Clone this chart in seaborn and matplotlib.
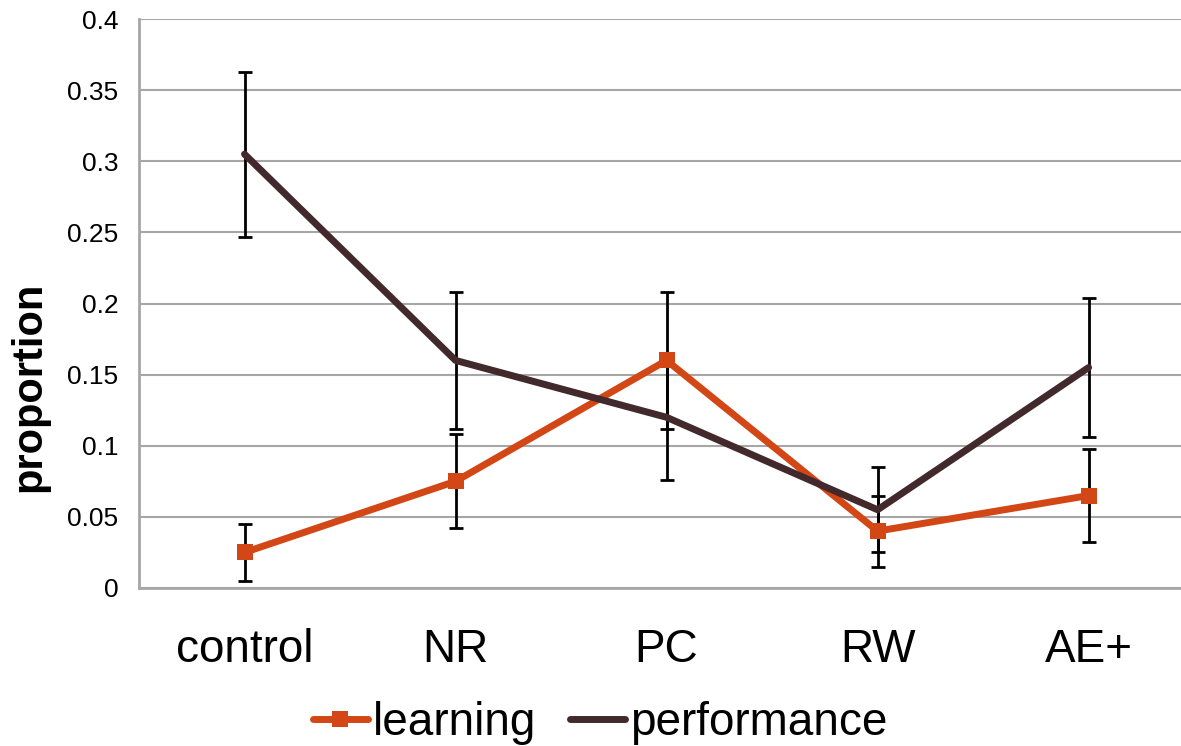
# 라이브러리
import numpy as np
import pandas as pd
import seaborn as sns
import matplotlib.pyplot as plt
from matplotlib.ticker import MultipleLocator

# data
categories = ['control', 'NR', 'PC', 'RW', 'AE+']
learning = [0.025, 0.075, 0.16, 0.04, 0.065]
learning_err = [0.02, 0.033, 0.048, 0.025, 0.033]
performance = [0.305, 0.16, 0.12, 0.055, 0.155]
performance_err = [0.058, 0.048, 0.044, 0.03, 0.049]
yticks = [0, 0.05, 0.1, 0.15, 0.2, 0.25, 0.3, 0.35, 0.4]
ytick_labels = ['0', '0.05', '0.1', '0.15', '0.2', '0.25', '0.3', '0.35', '0.4']

orange = '#D34615'
brown = '#42292C'
grey = '#A6A6A6'

sns.set_style('white')
plt.rcParams['font.family'] = ['Liberation Sans', 'DejaVu Sans']
plt.rcParams['text.color'] = 'black'
plt.rcParams['axes.labelcolor'] = 'black'
plt.rcParams['xtick.labelcolor'] = 'black'
plt.rcParams['ytick.labelcolor'] = 'black'

pos = np.arange(len(categories))
df = pd.DataFrame({'x': np.concatenate([pos, pos]),
                   'value': learning + performance,
                   'series': ['learning'] * 5 + ['performance'] * 5})

fig = plt.figure(figsize=(11.81, 7.46), dpi=100)
ax = fig.add_axes([0.1177, 0.2118, 0.8934, 0.7627])

# error bars under the lines
ax.errorbar(pos, performance, yerr=performance_err, fmt='none', ecolor='black',
            elinewidth=2, capsize=5, capthick=2, zorder=2)
ax.errorbar(pos, learning, yerr=learning_err, fmt='none', ecolor='black',
            elinewidth=2, capsize=5, capthick=2, zorder=2)

sns.lineplot(data=df[df.series == 'learning'], x='x', y='value', ax=ax,
             color=orange, lw=5, marker='s', markersize=12, markeredgewidth=0,
             label='learning', zorder=3)
sns.lineplot(data=df[df.series == 'performance'], x='x', y='value', ax=ax,
             color=brown, lw=5, label='performance', zorder=3)

ax.set_xlim(-0.5, 4.5)
ax.set_ylim(0, 0.4)
ax.set_yticks(yticks)
ax.set_yticklabels(ytick_labels, fontsize=19)
ax.yaxis.grid(True, color=grey, lw=1.5)
ax.set_axisbelow(True)

ax.set_xticks(pos)
ax.set_xticklabels(categories, fontsize=33)
ax.xaxis.set_minor_locator(MultipleLocator(1, offset=0.5))
ax.tick_params(axis='x', which='major', length=0, pad=29)
ax.tick_params(axis='x', which='minor', length=9, width=2, color=grey, direction='out')
ax.tick_params(axis='y', length=5, width=1.5, color=grey, direction='out', pad=10)

for s in ['top', 'right']:
    ax.spines[s].set_visible(False)
for s in ['left', 'bottom']:
    ax.spines[s].set_color(grey)
    ax.spines[s].set_linewidth(2)

ax.set_xlabel('')
ax.set_ylabel('proportion', fontsize=30, fontweight='bold', color='black')
ax.yaxis.set_label_coords(-0.085, 0.353)

leg = ax.legend(loc='lower center', bbox_to_anchor=(0.508, -0.03),
                bbox_transform=fig.transFigure, ncol=2, frameon=False,
                fontsize=33, handlelength=1.2, handletextpad=0.1, columnspacing=0.75,
                borderpad=0)
for t in leg.get_texts():
    t.set_color('black')

fig.savefig('out.png', dpi=100)
